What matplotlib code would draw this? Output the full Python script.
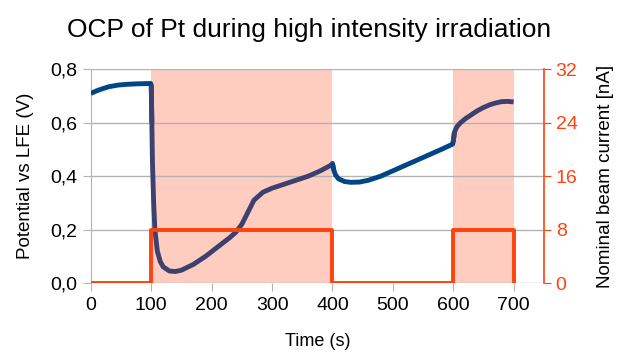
import matplotlib.pyplot as plt
from matplotlib.ticker import FuncFormatter

plt.rcParams['font.family'] = ['Liberation Sans', 'DejaVu Sans']

# potential (V)
t = [0, 10, 20, 30, 45, 60, 80, 99, 100, 101, 102, 104, 106, 110, 115, 120, 130, 140, 150,
     170, 190, 210, 230, 240, 250, 260, 270, 285, 300, 320, 340, 360, 380, 399,
     400, 402, 405, 410, 420, 430, 445, 460, 480, 500, 520, 540, 560, 580, 599,
     600, 602, 606, 612, 620, 630, 640, 650, 660, 670, 680, 690, 700]
v = [0.71, 0.72, 0.728, 0.735, 0.741, 0.744, 0.746, 0.747, 0.74, 0.6, 0.45, 0.3, 0.2, 0.12, 0.08, 0.06, 0.045, 0.043, 0.048,
     0.07, 0.1, 0.135, 0.17, 0.19, 0.22, 0.265, 0.31, 0.34, 0.355, 0.37, 0.385, 0.4, 0.42, 0.443,
     0.448, 0.425, 0.405, 0.39, 0.38, 0.377, 0.378, 0.385, 0.4, 0.42, 0.44, 0.46, 0.48, 0.5, 0.52,
     0.53, 0.565, 0.585, 0.6, 0.615, 0.63, 0.645, 0.657, 0.667, 0.674, 0.679, 0.68, 0.678]

# beam current (nA)
t_beam = [0, 100, 100, 400, 400, 600, 600, 700, 700]
i_beam = [0, 0, 8, 8, 0, 0, 8, 8, 0]

spans = [(100, 400), (600, 700)]

fig = plt.figure(figsize=(6.18, 3.52), dpi=100)
ax = fig.add_axes([0.147, 0.196, 0.733, 0.607])
ax2 = ax.twinx()

for a, b in spans:
    ax.axvspan(a, b, color='#ffccc0', zorder=0, lw=0)

# blue outside beam, darker navy during irradiation
on = lambda x: any(a <= x <= b for a, b in spans)
seg_t, seg_v, cur = [t[0]], [v[0]], on(t[0])
segs = []
for x, y in zip(t[1:], v[1:]):
    state = on(x) if not (x in (100, 400, 600, 700)) else None
    seg_t.append(x)
    seg_v.append(y)
    if state is not None and state != cur:
        segs.append((seg_t, seg_v, cur))
        seg_t, seg_v, cur = [seg_t[-2], x], [seg_v[-2], y], state
segs.append((seg_t, seg_v, cur))
for st, sv, c in segs:
    ax.plot(st, sv, color='#3c4170' if c else '#004586', lw=3.5,
            solid_capstyle='butt', zorder=3)

ax2.plot(t_beam, i_beam, color='#ff420e', lw=2.8, zorder=2)

ax.set_xlim(0, 750)
ax.set_ylim(0, 0.8)
ax2.set_ylim(0, 32)
ax.set_xticks(range(0, 701, 100))
ax.set_yticks([0, 0.2, 0.4, 0.6, 0.8])
ax2.set_yticks([0, 8, 16, 24, 32])
ax.yaxis.set_major_formatter(FuncFormatter(lambda y, p: f'{y:.1f}'.replace('.', ',')))
ax.yaxis.grid(True, color='#b3b3b3', lw=1)
ax.set_axisbelow(True)

for s in ['top', 'right', 'bottom']:
    ax.spines[s].set_visible(False)
ax.spines['left'].set_color('#b3b3b3')
for s in ['top', 'left', 'bottom']:
    ax2.spines[s].set_visible(False)
ax2.spines['right'].set_color('#ff420e')
ax2.spines['right'].set_linewidth(1.2)

ax.tick_params(axis='both', colors='#b3b3b3', labelcolor='black', labelsize=14, length=6)
ax.tick_params(axis='x', pad=4)
ax2.tick_params(axis='y', colors='#ff420e', labelcolor='#ff420e', labelsize=14, length=5)

ax.set_xlabel('Time (s)', fontsize=13)
ax.xaxis.set_label_coords(0.5, -0.235)
ax.set_ylabel('Potential vs LFE (V)', fontsize=13.5, labelpad=12)
ax2.set_ylabel('Nominal beam current [nA]', fontsize=13.5, labelpad=14)
fig.text(0.5, 0.915, 'OCP of Pt during high intensity irradiation', ha='center',
         va='center', fontsize=19)

fig.savefig('out.png', dpi=100)
